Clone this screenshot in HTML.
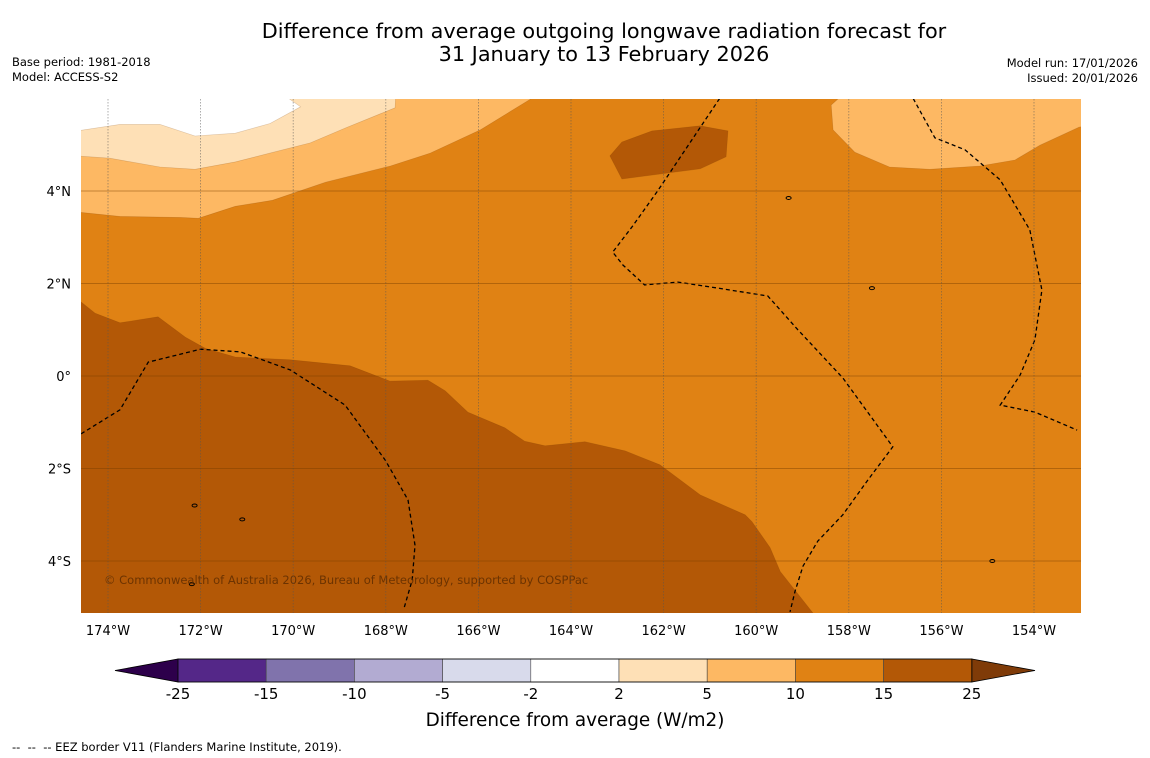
<!DOCTYPE html>
<html><head><meta charset="utf-8">
<style>
html,body{margin:0;padding:0;background:#fff;}
svg{display:block;font-family:"DejaVu Sans","Liberation Sans",sans-serif;}
</style></head>
<body>
<svg id="c" width="1150" height="758" viewBox="0 0 1150 758">
<text x="604" y="38" font-size="20.8" text-anchor="middle">Difference from average outgoing longwave radiation forecast for</text>
<text x="604" y="61" font-size="20.8" text-anchor="middle">31 January to 13 February 2026</text>
<text x="12" y="66" font-size="11.5">Base period: 1981-2018</text>
<text x="12" y="81" font-size="11.5">Model: ACCESS-S2</text>
<text x="1138" y="67" font-size="11.5" text-anchor="end">Model run: 17/01/2026</text>
<text x="1138" y="82" font-size="11.5" text-anchor="end">Issued: 20/01/2026</text>
<defs><clipPath id="mapclip"><rect x="81" y="99" width="1000" height="514"/></clipPath></defs>
<g id="map" clip-path="url(#mapclip)"></g>
<g id="grid"></g>
<g id="axes"></g>
<g id="cbar"></g>
<text x="575" y="726" font-size="18.4" text-anchor="middle">Difference from average (W/m2)</text>
<text x="12" y="751" font-size="11.5" style="white-space:pre">--  --  -- EEZ border V11 (Flanders Marine Institute, 2019).</text>
</svg>
<script>
// Data
const lonTicks=[-174,-172,-170,-168,-166,-164,-162,-160,-158,-156,-154];
const latTicks=[4,2,0,-2,-4];
const cbLevels=[-25,-15,-10,-5,-2,2,5,10,15,25];
const cbColors=["#542788","#8073ac","#b2abd2","#d8daeb","#ffffff","#fee0b6","#fdb863","#e08214","#b35806"];
const cbExtLow="#2d004b", cbExtHigh="#7f3b08";
// regions as [lon,lat] pairs (from picture)
const regionDark=[[-174.58,1.6],[-174.28,1.36],[-173.74,1.15],[-172.92,1.28],[-172.33,0.84],[-171.9,0.6],[-171.25,0.41],[-170.06,0.35],[-168.77,0.22],[-167.91,-0.11],[-167.09,-0.09],[-166.72,-0.32],[-166.23,-0.78],[-165.43,-1.12],[-165.0,-1.41],[-164.56,-1.51],[-163.7,-1.42],[-162.83,-1.62],[-162.08,-1.92],[-161.21,-2.57],[-160.24,-3.0],[-160.09,-3.15],[-159.7,-3.71],[-159.48,-4.23],[-158.73,-5.18],[-158.7,-6],[-175,-6],[-175,1.6]];
const regionDarkBlob=[[-163.16,4.76],[-162.9,5.06],[-162.25,5.3],[-161.21,5.41],[-160.61,5.3],[-160.65,4.74],[-161.21,4.48],[-162.9,4.26]];
const regionLightOrange=[[-175,3.58],[-173.74,3.45],[-172.44,3.43],[-172.05,3.41],[-171.25,3.67],[-170.45,3.8],[-169.3,4.19],[-167.9,4.54],[-167.04,4.82],[-165.96,5.32],[-164.53,6.2],[-175,6.2]];
const regionPale=[[-175,4.78],[-173.96,4.71],[-172.88,4.52],[-172.12,4.47],[-171.25,4.63],[-170.5,4.82],[-169.63,5.04],[-168.88,5.36],[-167.8,5.8],[-167.78,6.2],[-175,6.2]];
const regionWhite=[[-175,5.25],[-173.74,5.44],[-172.88,5.44],[-172.12,5.19],[-171.25,5.25],[-170.5,5.46],[-169.84,5.82],[-170.08,5.99],[-170.1,6.3],[-175,6.3]];
const regionLightOrangeNE=[[-158.38,5.86],[-158.0,6.2],[-152,6.2],[-152,5.6],[-153.03,5.38],[-153.87,4.99],[-154.41,4.67],[-155.17,4.54],[-156.25,4.47],[-157.12,4.52],[-157.87,4.84],[-158.34,5.32]];
const eez1=[[-174.58,-1.25],[-173.74,-0.73],[-173.13,0.3],[-172.0,0.58],[-171.14,0.52],[-170.06,0.13],[-168.88,-0.63],[-168.01,-1.82],[-167.52,-2.68],[-167.37,-3.66],[-167.43,-4.41],[-167.6,-5.0]];
const eez2=[[-160.79,6.0],[-161.48,4.97],[-162.13,4.0],[-162.67,3.24],[-163.1,2.68],[-162.88,2.4],[-162.41,1.97],[-161.69,2.03],[-160.83,1.9],[-159.75,1.73],[-159.1,1.0],[-158.13,-0.04],[-157.05,-1.53],[-157.59,-2.25],[-158.13,-3.0],[-158.67,-3.57],[-158.99,-4.11],[-159.16,-4.65],[-159.27,-5.1]];
const eez3=[[-156.61,6.0],[-156.14,5.15],[-155.49,4.89],[-154.73,4.24],[-154.09,3.16],[-153.83,1.86],[-153.98,0.78],[-154.3,0.02],[-154.73,-0.63],[-153.98,-0.78],[-153.07,-1.17]];
const islands=[[-172.13,-2.8],[-171.1,-3.1],[-159.3,3.85],[-157.5,1.9],[-154.9,-4.0],[-172.19,-4.5]];

// Axis functions
const X=lon=>108+(lon+174)*46.3;
const Y=lat=>376-lat*46.25;
const NS="http://www.w3.org/2000/svg";
function mk(tag,attrs,parent){const e=document.createElementNS(NS,tag);for(const k in attrs)e.setAttribute(k,attrs[k]);parent.appendChild(e);return e;}
const pts=a=>a.map(p=>X(p[0]).toFixed(1)+","+Y(p[1]).toFixed(1)).join(" ");
const map=document.getElementById('map');
let bg=mk('rect',{x:81,y:99,width:1000,height:514,fill:"#e08214"},map);


const regs=[[regionDark,"#b35806","region-15-25"],[regionDarkBlob,"#b35806","region-15-25-north"],[regionLightOrange,"#fdb863","region-5-10"],[regionPale,"#fee0b6","region-2-5"],[regionWhite,"#ffffff","region-neutral"],[regionLightOrangeNE,"#fdb863","region-5-10-northeast"]];
regs.forEach(r=>{const p=mk('polygon',{points:pts(r[0]),fill:r[1],stroke:"rgba(120,60,0,0.25)","stroke-width":0.6},map);

});
[eez1,eez2,eez3].forEach((e,i)=>{const l=mk('polyline',{points:pts(e),fill:"none",stroke:"#000","stroke-width":1.3,"stroke-dasharray":"4,3"},map);

});
islands.forEach(p=>{const c=mk('ellipse',{cx:X(p[0]),cy:Y(p[1]),rx:2.5,ry:1.5,fill:"none",stroke:"#000","stroke-width":1},map);

});
let cr=mk('text',{x:104,y:584,"font-size":11.5,fill:"#5a2a00","fill-opacity":0.8},map);cr.textContent="© Commonwealth of Australia 2026, Bureau of Meteorology, supported by COSPPac";


// grid
const grid=document.getElementById('grid');
lonTicks.forEach(l=>{const g=mk('line',{x1:X(l),x2:X(l),y1:99,y2:613,stroke:"#555","stroke-width":0.8,"stroke-dasharray":"1.5,1.5","stroke-opacity":0.6},grid);

});
latTicks.forEach(l=>{const g=mk('line',{x1:81,x2:1081,y1:Y(l),y2:Y(l),stroke:"#7a4000","stroke-width":0.8,"stroke-opacity":0.6},grid);

});
const axes=document.getElementById('axes');
lonTicks.forEach(l=>{const t=mk('text',{x:X(l),y:635,"font-size":13,"text-anchor":"middle"},axes);t.textContent=Math.abs(l)+"°W";

});
latTicks.forEach(l=>{const t=mk('text',{x:71,y:Y(l)+5,"font-size":13,"text-anchor":"end"},axes);t.textContent=l===0?"0°":Math.abs(l)+"°"+(l>0?"N":"S");

});
// colorbar
const cb=document.getElementById('cbar');
const cx0=178,cw=88.2,cy=659,ch=23;
const CX=i=>cx0+i*cw;
let lt=mk('polygon',{points:`115,${cy+ch/2} ${CX(0)},${cy} ${CX(0)},${cy+ch}`,fill:cbExtLow,stroke:"#000","stroke-width":0.8},cb);


let rt=mk('polygon',{points:`1035,${cy+ch/2} ${CX(cbColors.length)},${cy} ${CX(cbColors.length)},${cy+ch}`,fill:cbExtHigh,stroke:"#000","stroke-width":0.8},cb);


cbColors.forEach((c,i)=>{const r=mk('rect',{x:CX(i),y:cy,width:cw,height:ch,fill:c,stroke:"#444","stroke-width":0.6},cb);

});
mk('rect',{x:CX(0),y:cy,width:cw*cbColors.length,height:ch,fill:"none",stroke:"#000","stroke-width":0.8},cb);
cbLevels.forEach((v,i)=>{const t=mk('text',{x:CX(i),y:699,"font-size":15,"text-anchor":"middle"},cb);t.textContent=v;

});
</script>
</body></html>
